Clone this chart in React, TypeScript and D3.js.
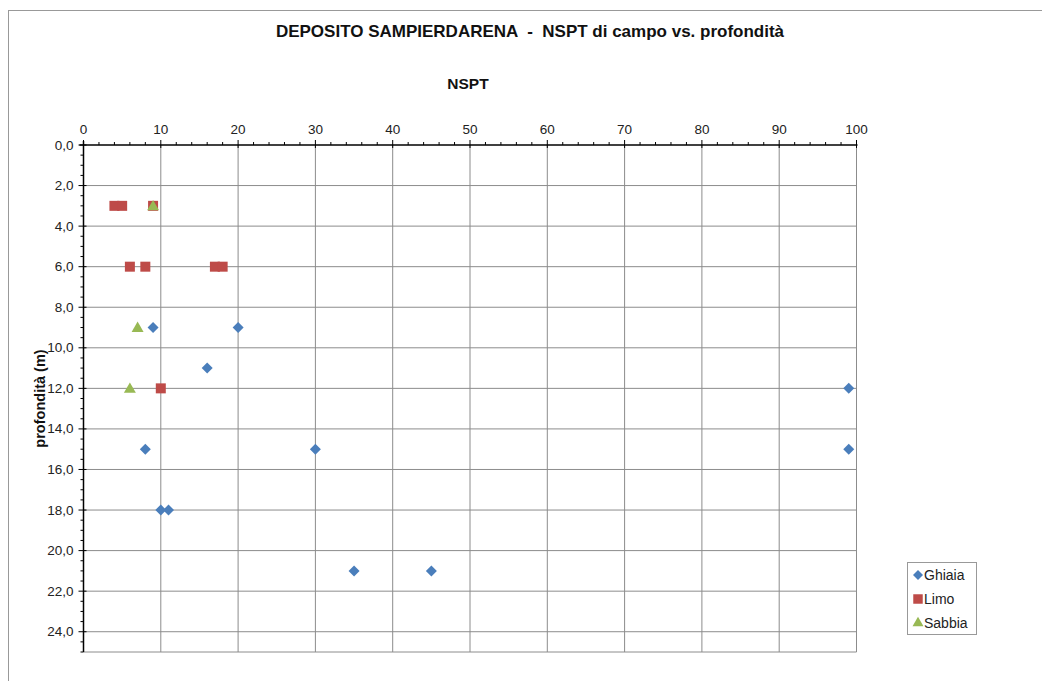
import React from "react";
import * as d3 from "d3";

const ghiaiaX = [9, 20, 16, 99, 8, 30, 99, 10, 11, 35, 45];
const ghiaiaY = [9, 9, 11, 12, 15, 15, 15, 18, 18, 21, 21];
const limoX = [4, 5, 9, 6, 8, 17, 18, 10];
const limoY = [3, 3, 3, 6, 6, 6, 6, 12];
const sabbiaX = [9, 7, 6];
const sabbiaY = [3, 9, 12];
const xTicks = [0, 10, 20, 30, 40, 50, 60, 70, 80, 90, 100];
const yTicks = [0, 2, 4, 6, 8, 10, 12, 14, 16, 18, 20, 22, 24];
const seriesNames = ["Ghiaia", "Limo", "Sabbia"];
const seriesColors = ["#4a7ebb", "#be4b48", "#98b954"];

const W = 1042;
const H = 681;
const left = 83.5;
const right = 856.5;
const top = 145;
const bottom = 652;

const diamondPath = (r: number) => `M0,${-r}L${r},0L0,${r}L${-r},0Z`;

export default function App() {
  const x = d3.scaleLinear().domain([0, 100]).range([left, right]);
  const y = d3.scaleLinear().domain([0, 25]).range([top, bottom]);
  const xMinor = d3.range(0, 100.001, 2);
  const yMinor = d3.range(0, 25.001, 0.5);
  const font = "'Liberation Sans', Arial, sans-serif";
  const square = d3.symbol().type(d3.symbolSquare).size(100)() as string;
  const triangle = d3.symbol().type(d3.symbolTriangle).size(62)() as string;
  const shapes = [diamondPath(5.5), square, triangle];
  const data = [
    ghiaiaX.map((v, i) => [v, ghiaiaY[i]]),
    limoX.map((v, i) => [v, limoY[i]]),
    sabbiaX.map((v, i) => [v, sabbiaY[i]]),
  ];
  const fmt = (v: number) => v.toFixed(1).replace(".", ",");
  const legendShapes = [
    diamondPath(5),
    d3.symbol().type(d3.symbolSquare).size(90)() as string,
    d3.symbol().type(d3.symbolTriangle).size(52)() as string,
  ];

  return (
    <svg
      width={W}
      height={H}
      style={{ position: "absolute", left: 0, top: 0, background: "#fff" }}
      fontFamily={font}
    >
      <rect x={8.5} y={10.5} width={W + 10} height={H + 10} fill="#fff" stroke="#999" strokeWidth={1} />
      <text x={530} y={37} textAnchor="middle" fontSize={17} fontWeight="bold" fill="#111" style={{ whiteSpace: "pre" }}>
        {"DEPOSITO SAMPIERDARENA  -  NSPT di campo vs. profondità"}
      </text>
      <text x={468} y={89} textAnchor="middle" fontSize={15.5} fontWeight="bold" fill="#111">
        NSPT
      </text>
      <text
        transform={`translate(45,${(top + bottom) / 2}) rotate(-90)`}
        textAnchor="middle"
        fontSize={14.5}
        fontWeight="bold"
        fill="#111"
      >
        profondità (m)
      </text>
      {xTicks.slice(1).map((t) => (
        <line key={"gx" + t} x1={x(t)} x2={x(t)} y1={top} y2={bottom} stroke="#8c8c8c" strokeWidth={1} />
      ))}
      {yTicks.slice(1).map((t) => (
        <line key={"gy" + t} x1={left} x2={right} y1={y(t)} y2={y(t)} stroke="#8c8c8c" strokeWidth={1} />
      ))}
      <line x1={left} x2={right} y1={bottom} y2={bottom} stroke="#8c8c8c" strokeWidth={1} />
      <line x1={left - 4} x2={right + 1} y1={top} y2={top} stroke="#000" strokeWidth={1.5} />
      <line x1={left} x2={left} y1={top - 4} y2={bottom} stroke="#000" strokeWidth={1.5} />
      {xMinor.map((t) => (
        <line key={"xm" + t} x1={x(t)} x2={x(t)} y1={top - (t % 10 === 0 ? 5 : 3)} y2={top + (t % 10 === 0 ? 3 : 0)} stroke="#000" strokeWidth={1} />
      ))}
      {yMinor.map((t) => (
        <line key={"ym" + t} x1={left - (t % 2 === 0 ? 5 : 3)} x2={left + (t % 2 === 0 ? 3 : 0)} y1={y(t)} y2={y(t)} stroke="#000" strokeWidth={1} />
      ))}
      {xTicks.map((t) => (
        <text key={"xl" + t} x={x(t)} y={top - 11} textAnchor="middle" fontSize={13.5} fill="#222">
          {t}
        </text>
      ))}
      {yTicks.map((t) => (
        <text key={"yl" + t} x={left - 10} y={y(t) + 4.5} textAnchor="end" fontSize={13.5} fill="#222">
          {fmt(t)}
        </text>
      ))}
      {data.map((pts, si) =>
        pts.map(([vx, vy], i) => (
          <path
            key={si + "-" + i}
            d={shapes[si]}
            transform={`translate(${x(vx)},${y(vy) + (si === 2 ? 1 : 0)})`}
            fill={seriesColors[si]}
          />
        ))
      )}
      <rect x={907.5} y={562.5} width={69} height={72} fill="#fff" stroke="#999" strokeWidth={1} />
      {seriesNames.map((n, i) => (
        <g key={n} transform={`translate(0,${575 + i * 24})`}>
          <path d={legendShapes[i]} transform="translate(918,0)" fill={seriesColors[i]} />
          <text x={924} y={5} fontSize={14} fill="#222">
            {n}
          </text>
        </g>
      ))}
    </svg>
  );
}
